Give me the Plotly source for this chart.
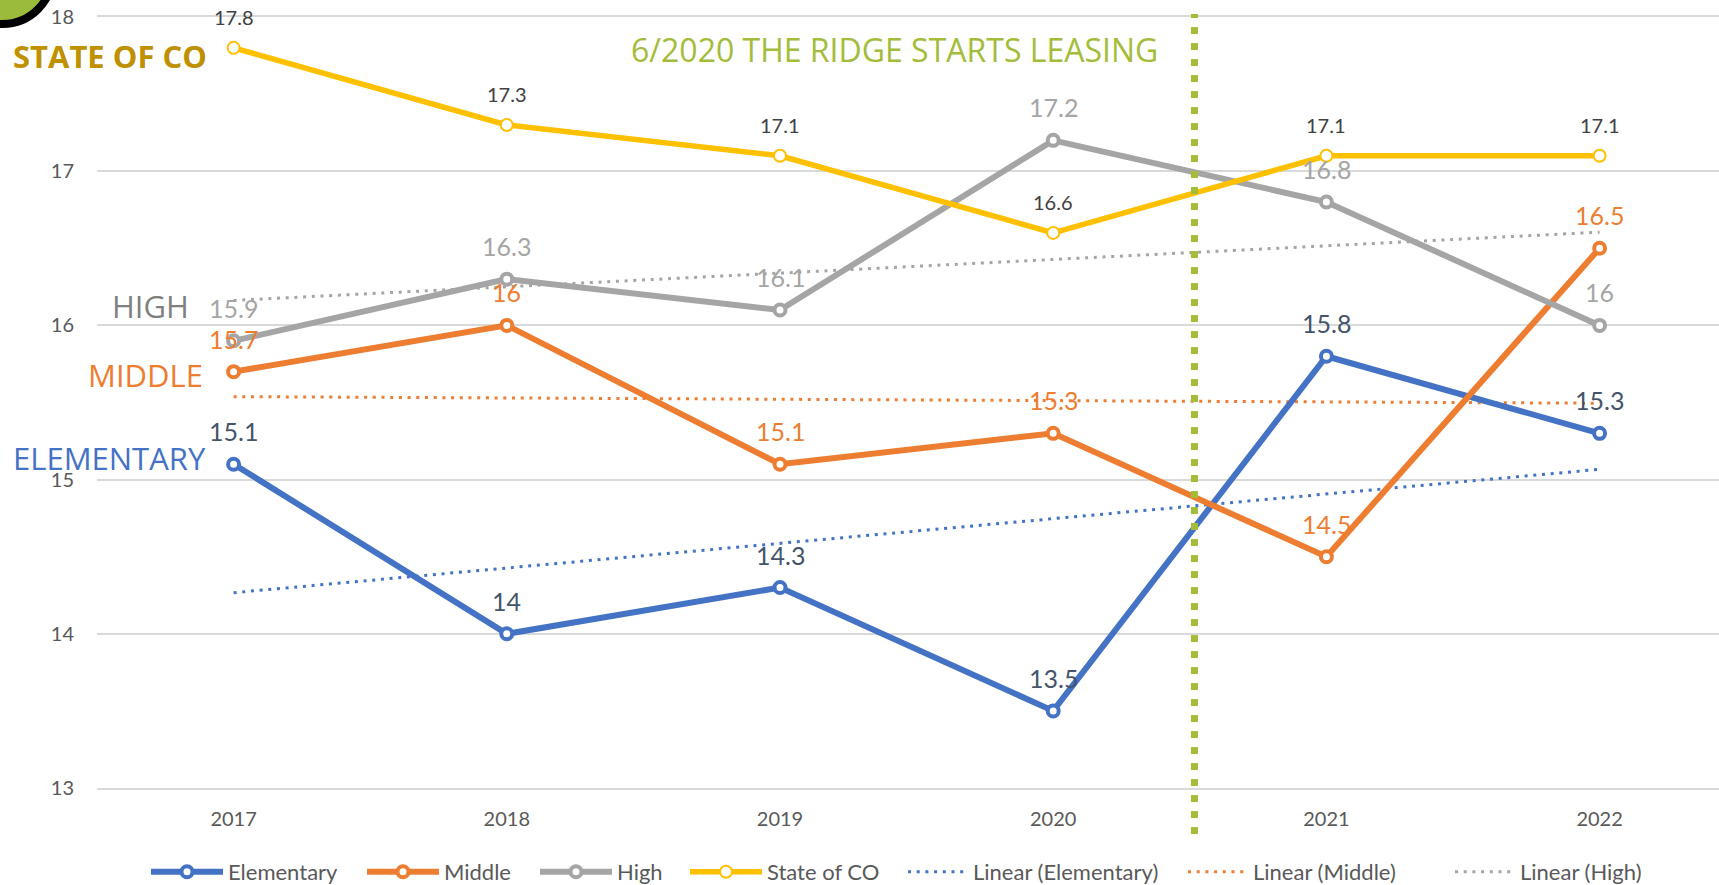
import numpy as np
import plotly.graph_objects as go

years = ["2017", "2018", "2019", "2020", "2021", "2022"]
elementary = [15.1, 14.0, 14.3, 13.5, 15.8, 15.3]
middle = [15.7, 16.0, 15.1, 15.3, 14.5, 16.5]
high = [15.9, 16.3, 16.1, 17.2, 16.8, 16.0]
state_co = [17.8, 17.3, 17.1, 16.6, 17.1, 17.1]
y_ticks = [13, 14, 15, 16, 17, 18]

W, H = 1719, 885
ML, MR, MT, MB = 97, 0, 17, 97
PW, PH = W - ML - MR, H - MT - MB


def px_x(p):
    return (p - ML) / PW


def px_y(p):
    return (H - MB - p) / PH


xs = list(range(len(years)))
FONT = "Lato"

C_EL, C_MI, C_HI, C_ST = "#4472C4", "#ED7D31", "#A5A5A5", "#FFC000"
GREEN = "#A3BC3A"

fig = go.Figure()

series = [
    ("Elementary", elementary, C_EL, "#44546A", 25, 4, 6),
    ("Middle", middle, C_MI, C_MI, 25, 4, 6),
    ("High", high, C_HI, C_HI, 25, 4, 6),
    ("State of CO", state_co, C_ST, "#404040", 20, 2, 5.5),
]

legend_ids = ["legend", "legend2", "legend3", "legend4", "legend5", "legend6", "legend7"]
text_starts = [233, 449, 622, 772, 978, 1258, 1525]
item_widths = [72, 72, 72, 72, 60, 60, 60]

trend_specs = [("Linear (Elementary)", elementary, C_EL),
               ("Linear (Middle)", middle, C_MI),
               ("Linear (High)", high, C_HI)]

annotations = []

for j, (name, vals, col) in enumerate(trend_specs):
    k, b = np.polyfit(xs, vals, 1)
    fig.add_trace(go.Scatter(
        x=[xs[0], xs[-1]], y=[b + k * xs[0], b + k * xs[-1]], name=name, mode="lines",
        line=dict(color=col, width=3, dash="3px,5.7px"),
        legend=legend_ids[4 + j], hoverinfo="skip",
    ))

for i, (name, vals, col, lcol, fs, mlw, lw) in enumerate(series):
    fig.add_trace(go.Scatter(
        x=xs, y=vals, name=name, mode="lines+markers",
        line=dict(color=col, width=lw),
        marker=dict(symbol="circle", size=11 if mlw > 2 else 12, color="white",
                    line=dict(color=col, width=mlw)),
        cliponaxis=False, legend=legend_ids[i], hoverinfo="skip",
    ))
    for xv, v in zip(xs, vals):
        annotations.append(dict(
            x=xv, y=v, xref="x", yref="y", text=f"{v:g}", showarrow=False,
            yshift=33 if fs > 20 else 31, font=dict(family=FONT, size=fs, color=lcol),
        ))

# left-side labels
side_labels = [
    ("STATE OF CO", 11, 56, "#BF9000", True),
    ("HIGH", 110, 306, "#7F7F7F", False),
    ("MIDDLE", 86, 375, C_MI, False),
    ("ELEMENTARY", 11, 458, C_EL, False),
]
for txt, xp, yp, col, bold in side_labels:
    annotations.append(dict(
        x=px_x(xp), y=px_y(yp), xref="paper", yref="paper", xanchor="left", yanchor="middle",
        text=f"<b>{txt}</b>" if bold else txt, showarrow=False,
        font=dict(family="Open Sans", size=31, color=col),
    ))

annotations.append(dict(
    x=px_x(894), y=px_y(50), xref="paper", yref="paper", xanchor="center", yanchor="middle",
    text="6/2020 THE RIDGE STARTS LEASING", showarrow=False,
    font=dict(family="Open Sans", size=32, color=GREEN),
))

shapes = [
    dict(type="line", xref="x", yref="paper", x0=3.517, x1=3.517,
         y0=px_y(834), y1=px_y(14), line=dict(color=GREEN, width=7, dash="7px,9px")),
    dict(type="circle", xref="paper", yref="paper",
         x0=px_x(2.5 - 50), x1=px_x(2.5 + 50), y0=px_y(-26 + 50), y1=px_y(-26 - 50),
         line=dict(color="black", width=8), fillcolor="#9BBB3B", layer="above"),
]

layout_legends = {}
for i, lid in enumerate(legend_ids):
    layout_legends[lid] = dict(
        x=px_x(text_starts[i] - item_widths[i] - 15), y=px_y(872),
        xanchor="left", yanchor="middle", orientation="h",
        font=dict(family=FONT, size=22, color="#595959"),
        itemwidth=item_widths[i], bgcolor="rgba(0,0,0,0)", borderwidth=0,
    )

fig.update_layout(
    width=W, height=H, margin=dict(l=ML, r=MR, t=MT, b=MB, autoexpand=False),
    paper_bgcolor="white", plot_bgcolor="white",
    showlegend=True,
    xaxis=dict(range=[-0.5, (W - ML - MR) / 273.2 - 0.5], tickvals=xs, ticktext=years,
               showgrid=False, zeroline=False, showline=True, mirror=True,
               linecolor="#D9D9D9", linewidth=1.5, ticks="",
               tickfont=dict(family=FONT, size=20, color="#595959"), ticklabelstandoff=12),
    yaxis=dict(range=[13, 18], tickvals=y_ticks, showgrid=True, gridcolor="#D9D9D9",
               gridwidth=1.5, zeroline=False, showline=False, ticks="",
               tickfont=dict(family=FONT, size=20, color="#595959"), ticklabelstandoff=22),
    annotations=annotations, shapes=shapes,
    **layout_legends,
)

fig.write_html("out.html", config={"displayModeBar": False},
               post_script="document.body.style.margin='0';document.body.style.overflow='hidden';")
